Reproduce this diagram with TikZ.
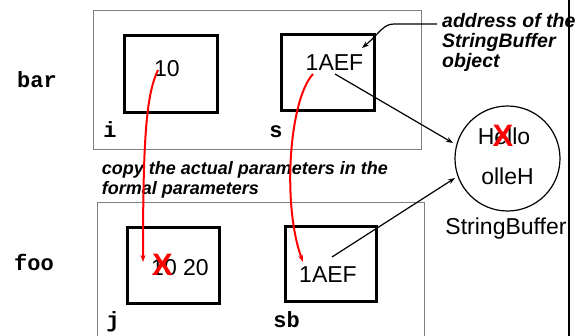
\documentclass[tikz,border=0pt]{standalone}
\usepackage{fontspec}
\setmainfont{Liberation Sans}
\setmonofont{Liberation Mono}
\usetikzlibrary{arrows.meta}
\begin{document}
\begin{tikzpicture}[x=1pt,y=-1pt,
  frame/.style={draw=black!50, line width=1pt},
  cell/.style={draw=black, line width=3pt, inner sep=0pt, outer sep=0pt},
  value/.style={inner sep=0pt, anchor=base, font=\fontsize{23}{27}\selectfont},
  varname/.style={inner sep=0pt, anchor=base, font=\fontsize{22}{26}\selectfont\ttfamily\bfseries},
  note/.style={inner sep=0pt, anchor=north west, align=left},
  cross/.style={inner sep=0pt, anchor=base, text=red, font=\fontsize{31}{31}\selectfont\bfseries},
  copyarrow/.style={draw=red, line width=2pt, -{Stealth[length=7pt,width=5pt]}},
  refarrow/.style={draw=black, line width=1.2pt, -{Stealth[length=7pt,width=5pt]}}
]
\useasboundingbox (0,0) rectangle (578,335);

% stack frames
\draw[frame] (93.5,10.5) rectangle (421.5,149.5);
\draw[frame] (97,336) -- (97,202) -- (424,202) -- (424,336);
\draw[line width=2pt] (569,-1) -- (569,336);

% frame names
\node[varname] (bar) at (37,87) {bar};
\node[varname] (foo) at (34,270) {foo};

% variables of bar
\node[cell, minimum width=93pt, minimum height=76.5pt] (ibox) at (170.5,73.75) {};
\node[cell, minimum width=92.5pt, minimum height=76pt] (sbox) at (327.75,72.5) {};
\node[varname] (ilab) at (110,137) {i};
\node[varname] (slab) at (276,137) {s};
\node[value] (ival) at (167,76) {10};
\node[value] (sval) at (334.5,70) {1AEF};

% variables of foo
\node[cell, minimum width=92pt, minimum height=76pt] (jbox) at (173,265) {};
\node[cell, minimum width=91pt, minimum height=74.5pt] (sbbox) at (330.5,263.75) {};
\node[varname] (jlab) at (113,327) {j};
\node[varname] (sblab) at (286.5,327) {sb};
\node[value] (jval) at (180,275) {10 20};
\node[value] (sbval) at (328,282) {1AEF};
\node[cross] (jcross) at (162.5,275) {X};

% the StringBuffer object
\node[draw=black, line width=1.2pt, circle, minimum size=105pt, inner sep=0pt] (obj) at (507.5,158.5) {};
\node[value] (hello) at (504,144) {Hello};
\node[value] (olleh) at (507.5,184) {olleH};
\node[cross] (ecross) at (503,146.7) {X};
\node[value] (objname) at (506,234.5) {StringBuffer};

% annotations
\node[note, font=\fontsize{19.5}{20}\selectfont\bfseries\itshape] (addr) at (442,12.7)
  {address of the\\StringBuffer\\object};
\node[note, font=\fontsize{18}{20}\selectfont\bfseries\itshape] (copy) at (101.7,161.6)
  {copy the actual parameters in the\\formal parameters};

% connector end points
\coordinate (addrstart) at (437,24);
\coordinate (addrtip) at (362,48);
\coordinate (ifrom) at (158,70);
\coordinate (jto) at (143,262);
\coordinate (sfrom) at (313,74);
\coordinate (sbto) at (303,262);
\coordinate (sref) at (335,74);
\coordinate (objtop) at (453,143);
\coordinate (sbref) at (332,257);
\coordinate (objbot) at (455,178);

% references to the object
\draw[refarrow] (addrstart) -- (394,24) .. controls (383,24) and (380,33) .. (addrtip);
\draw[refarrow] (sref) -- (objtop);
\draw[refarrow] (sbref) -- (objbot);

% parameter copying
\draw[copyarrow] (ifrom) .. controls (146,95) and (143,140) .. (jto);
\draw[copyarrow] (sfrom) .. controls (289,100) and (282,205) .. (sbto);
\end{tikzpicture}
\end{document}
